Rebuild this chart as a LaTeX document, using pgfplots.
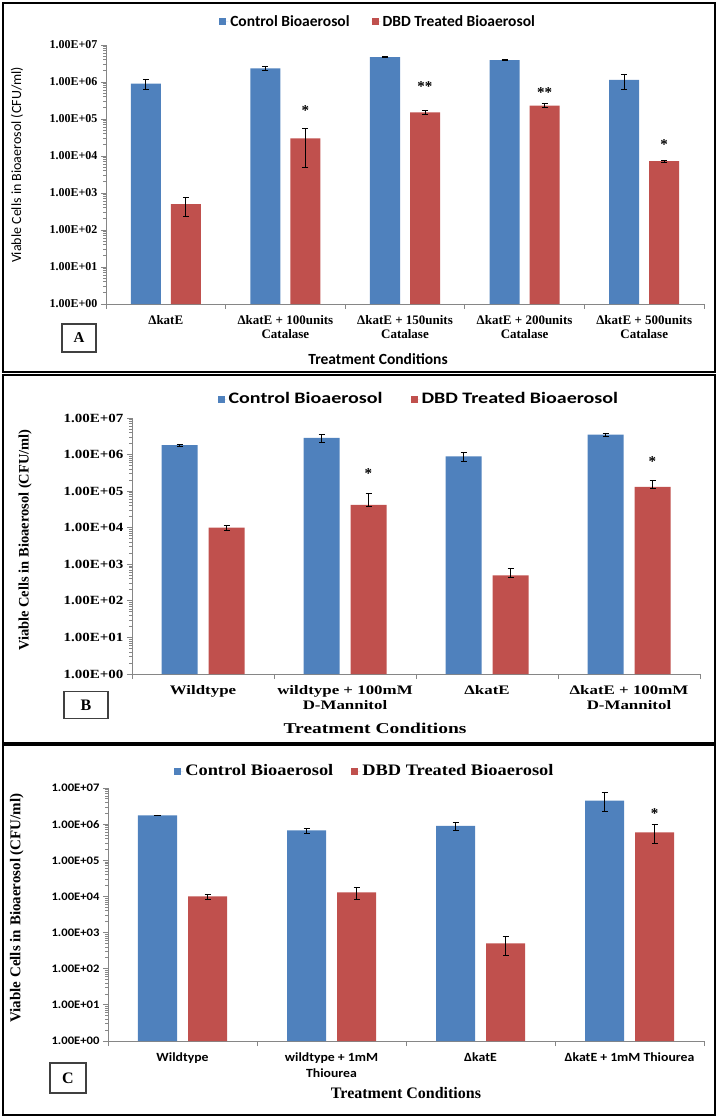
\documentclass[border=0pt]{standalone}
\usepackage{pgfplots}
\pgfplotsset{compat=1.18}
\usepackage{fontspec}
\setmainfont{Liberation Serif}
\setsansfont{Carlito}
\newfontfamily\Bserif{Liberation Serif}[FakeStretch=1.2]
\newfontfamily\Bxserif{Liberation Serif}[FakeStretch=1.3]
\newfontfamily\Bsans{Carlito}[FakeStretch=1.25]
\newfontfamily\Csans{Carlito}[FakeStretch=1.1]
\newfontfamily\Cserif{Liberation Serif}[FakeStretch=1.15]
\newcommand\fs[2]{\fontsize{#1bp}{#2bp}\selectfont}
\definecolor{cblue}{HTML}{4F81BD}
\definecolor{cred}{HTML}{C0504D}
\definecolor{axgray}{HTML}{868686}

\pgfplotsset{
  every axis/.append style={
    scale only axis,
    ymin=1, ymax=1e7,
    ytick={1,10,100,1000,10000,100000,1000000,10000000},
    yticklabels={1.00E+00,1.00E+01,1.00E+02,1.00E+03,1.00E+04,1.00E+05,1.00E+06,1.00E+07},
    axis lines*=left,
    axis line style={axgray, line width=0.8bp},
    tick style={axgray, line width=0.8bp},
    tick align=outside,
    major tick length=5bp,
    x tick label as interval,
    enlarge x limits=false,
    clip=false,
    legend columns=2,
  },
  sqlegend/.style={
    legend image code/.code={\fill[##1,draw=none] (0bp,-3.5bp) rectangle (7bp,3.5bp); \path (0bp,0bp) -- (9bp,0bp);},
  },
  every axis plot/.append style={
    error bars/y dir=both,
    error bars/y explicit,
    error bars/error bar style={black, line width=0.8bp},
    error bars/error mark options={rotate=90, black, mark size=3bp, line width=0.8bp},
  },
}

\begin{document}
\begin{tikzpicture}
\useasboundingbox (0,0) rectangle (717bp,-1118bp);

% ---------------- Panel A ----------------
\draw[black, line width=1.5bp] (3bp,-3bp) rectangle (715bp,-372bp);
\begin{semilogyaxis}[
  at={(106bp,-304bp)}, anchor=south west,
  width=598bp, height=259bp,
  xmin=-0.5, xmax=4.5,
  xtick={-0.5,0.5,1.5,2.5,3.5,4.5},
  xticklabels={{ΔkatE},{ΔkatE + 100units\\Catalase},{ΔkatE + 150units\\Catalase},{ΔkatE + 200units\\Catalase},{ΔkatE + 500units\\Catalase}},
  xticklabel style={font=\bfseries\fs{13}{14}, align=center, anchor=north, yshift=-3bp},
  yticklabel style={font=\bfseries\fs{12}{12}},
  ybar=10bp, bar width=30bp,
  ylabel={Viable Cells in Bioaerosol (CFU/ml)},
  ylabel style={font=\sffamily\fs{14}{14}, at={(axis description cs:-0.149,0.537)}, anchor=center},
  xlabel={Treatment Conditions},
  xlabel style={font=\sffamily\bfseries\fs{15.5}{15.5}, at={(axis description cs:0.455,-0.212)}, anchor=center},
  legend style={at={(axis description cs:0.455,1.089)}, anchor=center, draw=none, fill=none,
    font=\sffamily\bfseries\fs{15.5}{15.5}, /tikz/every even column/.append style={column sep=20bp}},
]
\addplot[fill=cblue, draw=none, sqlegend] coordinates {
  (0,9.0e5) +- (0,2.5e5)
  (1,2.35e6) +- (0,2.5e5)
  (2,4.7e6) +- (0,2.0e5)
  (3,3.9e6) +- (0,1.5e5)
  (4,1.15e6) +- (0,5.0e5)
};
\addplot[fill=cred, draw=none, sqlegend] coordinates {
  (0,500) +- (0,270)
  (1,3.0e4) +- (0,2.5e4)
  (2,1.5e5) +- (0,2.0e4)
  (3,2.3e5) +- (0,3.0e4)
  (4,7.3e3) +- (0,4.0e2)
};
\legend{Control Bioaerosol, DBD Treated Bioaerosol}
\node[font=\bfseries\fs{15}{15}, yshift=-3bp] at (axis cs:1.167,2.1e5) {*};
\node[font=\bfseries\fs{15}{15}, yshift=-3bp] at (axis cs:2.167,9.3e5) {**};
\node[font=\bfseries\fs{15}{15}, yshift=-3bp] at (axis cs:3.167,6.2e5) {**};
\node[font=\bfseries\fs{15}{15}, yshift=-3bp] at (axis cs:4.167,2.5e4) {*};
\end{semilogyaxis}
\node[draw=black!75, line width=1.2bp, minimum width=34bp, minimum height=28bp,
  font=\bfseries\fs{15}{15}] at (79bp,-338bp) {A};

% ---------------- Panel B ----------------
\draw[black, line width=1.5bp] (3bp,-375bp) rectangle (715bp,-743bp);
\begin{semilogyaxis}[
  at={(132bp,-674bp)}, anchor=south west,
  width=568bp, height=256bp,
  xmin=-0.5, xmax=3.5,
  xtick={-0.5,0.5,1.5,2.5,3.5},
  xticklabels={{Wildtype},{wildtype + 100mM\\D-Mannitol},{ΔkatE},{ΔkatE + 100mM\\D-Mannitol}},
  xticklabel style={font=\Bxserif\bfseries\fs{13}{14.5}, align=center, anchor=north, yshift=-3bp},
  yticklabel style={font=\Bserif\bfseries\fs{12.5}{12.5}},
  ybar=11bp, bar width=36bp,
  ylabel={Viable Cells in Bioaerosol (CFU/ml)},
  ylabel style={font=\bfseries\fs{14.5}{14.5}, at={(axis description cs:-0.188,0.523)}, anchor=center},
  xlabel={Treatment Conditions},
  xlabel style={font=\Bxserif\bfseries\fs{15}{15}, at={(axis description cs:0.428,-0.211)}, anchor=center},
  legend style={at={(axis description cs:0.505,1.074)}, anchor=center, draw=none, fill=none,
    font=\Bsans\bfseries\fs{16}{16}, /tikz/every even column/.append style={column sep=26bp}},
]
\addplot[fill=cblue, draw=none, sqlegend] coordinates {
  (0,1.8e6) +- (0,1.0e5)
  (1,2.85e6) +- (0,7.0e5)
  (2,9.0e5) +- (0,2.5e5)
  (3,3.5e6) +- (0,4.0e5)
};
\addplot[fill=cred, draw=none, sqlegend] coordinates {
  (0,1.0e4) +- (0,1.5e3)
  (1,4.2e4) += (0,4.4e4) -= (0,3.0e3)
  (2,500) += (0,280) -= (0,50)
  (3,1.3e5) += (0,7.0e4) -= (0,1.0e4)
};
\legend{Control Bioaerosol, DBD Treated Bioaerosol}
\node[font=\bfseries\fs{15}{15}, yshift=-3bp] at (axis cs:1.165,3.7e5) {*};
\node[font=\bfseries\fs{15}{15}, yshift=-3bp] at (axis cs:3.165,7.8e5) {*};
\end{semilogyaxis}
\node[draw=black!75, line width=1.2bp, minimum width=44bp, minimum height=27bp,
  font=\bfseries\fs{16}{16}] at (86bp,-705bp) {B};

% ---------------- Panel C ----------------
\draw[black, line width=1.5bp] (3bp,-745bp) rectangle (715bp,-1115bp);
\begin{semilogyaxis}[
  at={(108bp,-1041bp)}, anchor=south west,
  width=596bp, height=253bp,
  xmin=-0.5, xmax=3.5,
  xtick={-0.5,0.5,1.5,2.5,3.5},
  xticklabels={{Wildtype},{wildtype + 1mM\\Thiourea},{ΔkatE},{ΔkatE + 1mM Thiourea}},
  xticklabel style={font=\Csans\bfseries\fs{12.5}{16}, align=center, anchor=north, yshift=-3bp},
  yticklabel style={font=\Csans\bfseries\fs{11.5}{11.5}},
  ybar=11bp, bar width=39bp,
  ylabel={Viable Cells in Bioaerosol (CFU/ml)},
  ylabel style={font=\bfseries\fs{15}{15}, at={(axis description cs:-0.153,0.526)}, anchor=center},
  xlabel={Treatment Conditions},
  xlabel style={font=\bfseries\fs{16}{16}, at={(axis description cs:0.5,-0.206)}, anchor=center},
  legend style={at={(axis description cs:0.431,1.067)}, anchor=center, draw=none, fill=none,
    font=\Cserif\bfseries\fs{16}{16}, /tikz/every even column/.append style={column sep=16bp}},
]
\addplot[fill=cblue, draw=none, sqlegend] coordinates {
  (0,1.75e6) +- (0,5.0e4)
  (1,6.7e5) +- (0,1.0e5)
  (2,9.0e5) +- (0,2.2e5)
  (3,4.5e6) += (0,3.0e6) -= (0,2.3e6)
};
\addplot[fill=cred, draw=none, sqlegend] coordinates {
  (0,1.0e4) +- (0,1.5e3)
  (1,1.3e4) +- (0,4.5e3)
  (2,500) +- (0,270)
  (3,5.9e5) += (0,3.7e5) -= (0,2.9e5)
};
\legend{Control Bioaerosol, DBD Treated Bioaerosol}
\node[font=\bfseries\fs{15}{15}, yshift=-3bp] at (axis cs:3.168,2.35e6) {*};
\end{semilogyaxis}
\node[draw=black!75, line width=1.2bp, minimum width=36bp, minimum height=30bp,
  font=\bfseries\fs{16}{16}] at (68bp,-1078bp) {C};
\end{tikzpicture}
\end{document}
